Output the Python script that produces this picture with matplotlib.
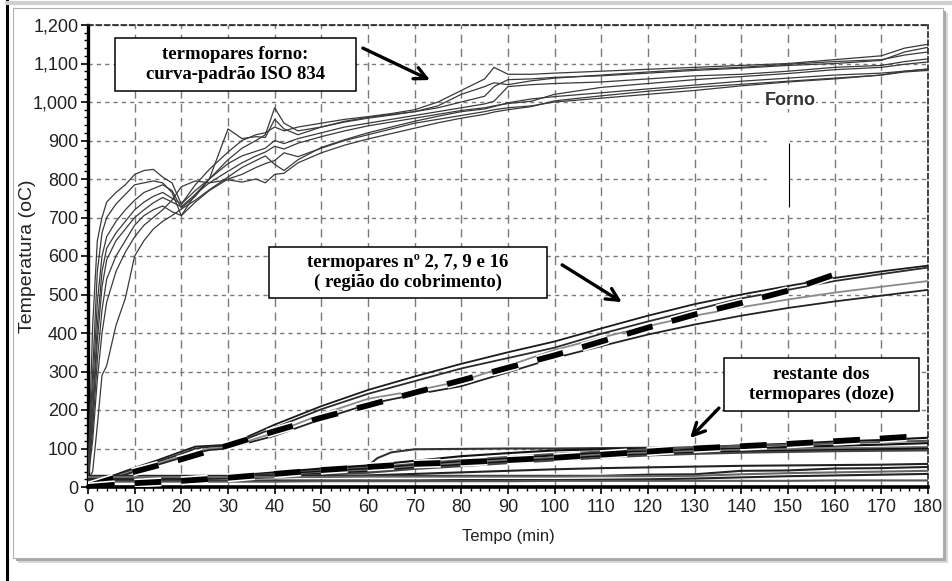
import matplotlib
matplotlib.use("Agg")
import matplotlib.pyplot as plt
from matplotlib.ticker import MultipleLocator, FuncFormatter
from matplotlib.patches import Rectangle
from matplotlib.lines import Line2D
import matplotlib.patheffects as pe

# ---- data ----
t_forno = [0, 1, 2, 3, 4, 6, 8, 10, 12, 14, 16, 18, 20, 23, 26, 30, 33, 36, 38, 40, 42, 45,
           50, 55, 60, 65, 70, 75, 80, 85, 87, 90, 95, 100, 110, 120, 130, 140, 150, 160, 170, 175, 180]
forno_1 = [20, 420, 640, 700, 740, 765, 785, 812, 822, 825, 805, 790, 735, 785, 825, 870, 900, 915, 920, 935, 925, 935,
           945, 955, 962, 970, 980, 1000, 1030, 1060, 1090, 1072, 1072, 1075, 1080, 1085, 1090, 1095, 1100, 1110, 1120, 1140, 1150]
forno_2 = [20, 300, 560, 660, 700, 735, 760, 785, 790, 795, 790, 765, 705, 760, 800, 850, 880, 900, 915, 985, 945, 925,
           935, 948, 958, 966, 975, 990, 1020, 1040, 1050, 1045, 1055, 1062, 1070, 1078, 1085, 1090, 1098, 1105, 1110, 1122, 1130]
forno_3 = [20, 250, 480, 600, 650, 690, 720, 745, 765, 775, 785, 770, 725, 755, 800, 930, 905, 910, 908, 955, 930, 915,
           935, 950, 960, 968, 975, 985, 1000, 1015, 1040, 1058, 1060, 1064, 1068, 1075, 1082, 1088, 1095, 1100, 1108, 1130, 1142]
forno_4 = [20, 200, 420, 560, 620, 660, 690, 720, 740, 755, 765, 750, 735, 770, 800, 840, 860, 872, 880, 900, 892, 905,
           920, 935, 945, 955, 965, 975, 985, 995, 1002, 1040, 1045, 1048, 1052, 1060, 1068, 1072, 1080, 1090, 1095, 1105, 1112]
forno_5 = [20, 180, 380, 520, 590, 640, 670, 700, 720, 738, 752, 740, 728, 760, 790, 820, 842, 860, 870, 885, 878, 893,
           910, 925, 938, 948, 958, 968, 978, 985, 990, 996, 1002, 1020, 1038, 1048, 1058, 1066, 1074, 1084, 1090, 1098, 1104]
forno_6 = [20, 150, 330, 460, 540, 600, 640, 680, 705, 720, 730, 715, 705, 740, 770, 800, 812, 830, 840, 848, 868, 858,
           880, 900, 915, 930, 945, 955, 965, 975, 980, 985, 990, 1000, 1010, 1020, 1030, 1042, 1052, 1060, 1070, 1080, 1086]
forno_7 = [20, 120, 280, 400, 480, 560, 610, 650, 680, 700, 720, 745, 780, 795, 790, 798, 792, 800, 790, 812, 815, 842,
           868, 888, 904, 918, 932, 946, 958, 968, 974, 980, 988, 1003, 1016, 1028, 1038, 1046, 1054, 1062, 1070, 1078, 1082]
forno_8 = [20, 40, 160, 290, 315, 420, 490, 600, 640, 670, 690, 705, 722, 745, 772, 805, 830, 848, 860, 838, 822, 850,
           882, 902, 920, 935, 950, 963, 975, 982, 988, 998, 1008, 1014, 1024, 1034, 1044, 1054, 1062, 1070, 1075, 1080, 1085]

t_cob = [0, 5, 10, 15, 20, 23, 26, 30, 35, 40, 50, 60, 70, 80, 90, 100, 110, 120, 130, 140, 150, 160, 170, 180]
cob_1 = [8, 28, 50, 70, 92, 105, 107, 110, 135, 162, 210, 252, 287, 320, 350, 378, 412, 445, 475, 500, 522, 543, 560, 575]
cob_2 = [6, 25, 46, 66, 86, 100, 104, 106, 130, 154, 202, 242, 275, 308, 335, 362, 398, 430, 460, 490, 512, 535, 553, 570]
cob_3 = [5, 23, 43, 62, 80, 92, 100, 103, 122, 141, 189, 229, 250, 275, 315, 356, 388, 418, 445, 467, 487, 505, 520, 535]
cob_4 = [4, 20, 40, 58, 76, 88, 96, 100, 117, 133, 176, 215, 240, 262, 298, 335, 366, 396, 422, 445, 465, 482, 497, 512]

t_sim_cob = [0, 10, 20, 30, 40, 50, 60, 70, 80, 90, 100, 110, 120, 130, 140, 150, 160]
sim_cob = [2, 40, 72, 108, 145, 180, 212, 245, 277, 310, 342, 378, 414, 448, 478, 510, 552]

t_rest = [0, 10, 20, 30, 40, 50, 60, 62, 65, 70, 80, 90, 100, 110, 120, 130, 140, 150, 160, 170, 180]
rest_1 = [20, 20, 22, 27, 35, 44, 55, 75, 90, 98, 99, 100, 100, 101, 102, 101, 100, 100, 100, 100, 100]
rest_2 = [20, 20, 23, 28, 38, 48, 56, 58, 62, 68, 80, 88, 95, 98, 100, 103, 108, 112, 118, 122, 128]
rest_3 = [20, 20, 22, 27, 34, 42, 50, 52, 55, 60, 70, 78, 86, 92, 98, 103, 107, 110, 113, 117, 120]
rest_4 = [20, 20, 22, 26, 32, 40, 47, 49, 52, 57, 66, 74, 82, 88, 93, 97, 100, 104, 107, 110, 114]
rest_5 = [20, 20, 21, 25, 30, 36, 43, 45, 48, 53, 62, 70, 77, 84, 89, 93, 96, 98, 100, 102, 104]
rest_6 = [20, 20, 21, 24, 28, 34, 40, 42, 45, 50, 58, 66, 73, 80, 85, 89, 92, 94, 96, 98, 100]
rest_7 = [20, 20, 21, 23, 27, 32, 37, 39, 42, 47, 54, 62, 69, 76, 82, 86, 89, 91, 93, 94, 95]
rest_8 = [20, 20, 21, 22, 25, 27, 30, 31, 32, 34, 38, 42, 46, 49, 51, 53, 55, 56, 57, 58, 60]
rest_9 = [29, 29, 29, 29, 29, 29, 29, 29, 29, 29, 29, 29, 29, 29, 32, 33, 42, 43, 48, 49, 52]
rest_10 = [26, 26, 26, 26, 26, 26, 27, 27, 27, 27, 27, 27, 27, 28, 28, 29, 33, 36, 38, 40, 42]
rest_11 = [16, 16, 16, 16, 17, 17, 17, 17, 17, 17, 18, 18, 18, 19, 20, 22, 25, 28, 30, 32, 34]
rest_12 = [14, 14, 14, 14, 14, 15, 15, 15, 15, 15, 15, 15, 16, 16, 16, 16, 16, 16, 17, 17, 17]

t_sim_rest = [0, 10, 20, 30, 40, 50, 60, 70, 80, 90, 100, 110, 120, 130, 140, 150, 160, 170, 178]
sim_rest = [0, 10, 16, 24, 34, 44, 52, 60, 64, 70, 76, 84, 92, 100, 106, 112, 119, 126, 132]

forno = [forno_1, forno_2, forno_3, forno_4, forno_5, forno_6, forno_7, forno_8]
cob = [cob_1, cob_2, cob_3, cob_4]
rest = [rest_1, rest_2, rest_3, rest_4, rest_5, rest_6, rest_7, rest_8, rest_9, rest_10, rest_11, rest_12]

# annotation boxes: (text, x0, x1, y0, y1) in data units
notes = [
    ('termopares forno:\ncurva-padrão ISO 834', 5.8, 57.4, 1029, 1166),
    ('termopares nº 2, 7, 9 e 16\n( região do cobrimento)', 38.8, 98.4, 491, 623),
    ('restante dos\ntermopares (doze)', 136.3, 178.1, 197, 335),
]
# arrows: (tip, tail)
arrows = [((73.3, 1057), (58.9, 1140)), ((114.4, 480), (101.6, 577)), ((129.0, 127), (135.2, 205))]

narrow = ['Liberation Sans Narrow', 'Liberation Sans', 'DejaVu Sans']
serif = ['Liberation Serif', 'DejaVu Serif']

fig = plt.figure(figsize=(9.52, 5.81), dpi=100)
W, H = 952, 581

# outer frame bits and panel with shadow
fig.add_artist(Line2D([7 / W, 7 / W], [0, 1], transform=fig.transFigure, color='black', lw=2.2))
fig.add_artist(Line2D([7 / W, 1], [1 - 3 / H, 1 - 3 / H], transform=fig.transFigure, color='#cfcfcf', lw=3))
fig.add_artist(Rectangle((18 / W, 1 - 563 / H), 930 / W, 550 / H, transform=fig.transFigure,
                         facecolor='#d8d8d8', edgecolor='none', zorder=0))
fig.add_artist(Rectangle((16 / W, 1 - 561 / H), 930 / W, 550 / H, transform=fig.transFigure,
                         facecolor='#a8a8a8', edgecolor='none', zorder=0))
fig.add_artist(Rectangle((13 / W, 1 - 558 / H), 930 / W, 550 / H, transform=fig.transFigure,
                         facecolor='white', edgecolor='#b0b0b0', lw=0.8, zorder=0))

ax = fig.add_axes([88 / W, 1 - 487 / H, 840 / W, 462 / H])
ax.set_facecolor('none')

for y in forno:
    ax.plot(t_forno, y, color='#3a3a3a', lw=0.9, zorder=3)
cob_colors = ['#1a1a1a', '#2a2a2a', '#8a8a8a', '#222222']
for y, c in zip(cob, cob_colors):
    ax.plot(t_cob, y, color=c, lw=1.3, zorder=3)
rest_colors = ['#333333', '#111111', '#555555', '#111111', '#777777', '#111111',
               '#444444', '#222222', '#222222', '#666666', '#222222', '#555555']
for y, c in zip(rest, rest_colors):
    ax.plot(t_rest, y, color=c, lw=1.5, zorder=3)

white_edge = [pe.withStroke(linewidth=6.5, foreground='white')]
for tt, yy in [(t_sim_cob, sim_cob), (t_sim_rest, sim_rest)]:
    ax.plot(tt, yy, color='black', lw=4.2, dashes=(4.6, 3.4), zorder=5, path_effects=white_edge)

ax.set_xlim(0, 180)
ax.set_ylim(0, 1200)
ax.xaxis.set_major_locator(MultipleLocator(10))
ax.xaxis.set_minor_locator(MultipleLocator(2))
ax.yaxis.set_major_locator(MultipleLocator(100))
ax.yaxis.set_minor_locator(MultipleLocator(20))
ax.yaxis.set_major_formatter(FuncFormatter(lambda v, p: f'{v:,.0f}'))

ax.grid(axis='y', which='major', color='#7a7a7a', lw=1.0, dashes=(3, 3))
ax.grid(axis='x', which='major', color='#7a7a7a', lw=1.0, dashes=(6, 4))
ax.set_axisbelow(True)

ax.spines['left'].set_linewidth(2.4)
ax.spines['bottom'].set_linewidth(2.6)
for s in ['top', 'right']:
    ax.spines[s].set_linewidth(1.2)
    ax.spines[s].set_linestyle((0, (3, 2)))
    ax.spines[s].set_color('#222222')

ax.tick_params(which='major', length=5, width=1.2, direction='out')
ax.tick_params(axis='y', which='major', pad=2)
ax.tick_params(axis='x', which='major', pad=4)
ax.tick_params(which='minor', length=3, width=1.0, direction='out')
for lab in ax.get_xticklabels() + ax.get_yticklabels():
    lab.set_family(narrow)
    lab.set_fontsize(13)
    lab.set_color('#222222')

ax.set_xlabel('Tempo (min)', family=narrow, fontsize=12, color='#222222', va='center')
ax.xaxis.set_label_coords(0.5, -0.108)
ax.set_ylabel('Temperatura (oC)', family=['Liberation Sans', 'DejaVu Sans'], fontsize=14,
              color='#222222', va='center')
ax.yaxis.set_label_coords(-0.0726, 0.5)

# blanked patch near the furnace label
ax.add_patch(Rectangle((145.5, 712), 4.9, 259, facecolor='white', edgecolor='none', zorder=1))
ax.vlines(150.2, 727, 893, color='black', lw=0.8, zorder=2)
ax.text(150.4, 1005, 'Forno', family=narrow, fontsize=13, fontweight='bold', color='#333333',
        ha='center', va='center', zorder=4,
        bbox=dict(facecolor='white', edgecolor='none', pad=0.5))

for txt, x0, x1, y0, y1 in notes:
    ax.add_patch(Rectangle((x0, y0), x1 - x0, y1 - y0, facecolor='white', edgecolor='black',
                           lw=1.1, zorder=6))
    ax.text((x0 + x1) / 2, (y0 + y1) / 2, txt, family=serif, fontsize=13.5, fontweight='bold',
            ha='center', va='center', linespacing=1.2, zorder=7)

arrow = dict(arrowstyle='->', lw=2.4, color='black', mutation_scale=22, shrinkA=0, shrinkB=0)
for tip, tail in arrows:
    ax.annotate('', xy=tip, xytext=tail, arrowprops=arrow, zorder=7)

fig.savefig('out.png', dpi=100)
